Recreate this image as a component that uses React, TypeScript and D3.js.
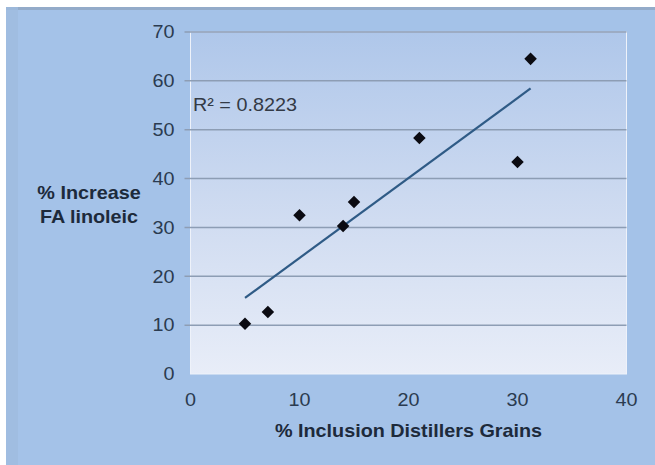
import React, { useEffect, useRef } from "react";
import * as d3 from "d3";

// data
const inclusion = [5, 7.1, 10, 14, 15, 21, 30, 31.2];
const linoleic = [10.3, 12.7, 32.5, 30.3, 35.2, 48.3, 43.4, 64.5];
const xTicks = [0, 10, 20, 30, 40];
const yTicks = [0, 10, 20, 30, 40, 50, 60, 70];
const xTitle = "% Inclusion Distillers Grains";
const yTitle = ["% Increase", "FA linoleic"];
const r2Label = "R² = 0.8223";

const W = 655;
const H = 465;
const FONT = "'Liberation Sans', Arial, sans-serif";
const SX = 1.1; // the original text is a bit stretched sideways

const App = () => {
  const ref = useRef<SVGSVGElement>(null);

  useEffect(() => {
    const svg = d3.select(ref.current);
    svg.selectAll("*").remove();

    const plot = { left: 190.5, right: 626.5, top: 32, bottom: 374 };

    const x = d3.scaleLinear().domain([0, 40]).range([plot.left, plot.right]);
    const y = d3.scaleLinear().domain([0, 70]).range([plot.bottom, plot.top]);

    const at = (px: number, py: number) => `translate(${px},${py}) scale(${SX},1)`;

    const defs = svg.append("defs");
    const grad = defs
      .append("linearGradient")
      .attr("id", "plotBg")
      .attr("x1", 0)
      .attr("y1", 0)
      .attr("x2", 0)
      .attr("y2", 1);
    grad.append("stop").attr("offset", "0%").attr("stop-color", "#afc7ea");
    grad.append("stop").attr("offset", "55%").attr("stop-color", "#d0dcf1");
    grad.append("stop").attr("offset", "100%").attr("stop-color", "#e8edf8");

    // page / slide background
    svg.append("rect").attr("width", W).attr("height", H).attr("fill", "#ffffff");
    svg
      .append("rect")
      .attr("x", 6)
      .attr("y", 7)
      .attr("width", W - 6)
      .attr("height", H - 7)
      .attr("fill", "#a4c2e8");
    svg
      .append("rect")
      .attr("x", 6)
      .attr("y", 7)
      .attr("width", W - 6)
      .attr("height", 3)
      .attr("fill", "#93abc9");
    svg
      .append("rect")
      .attr("x", 6)
      .attr("y", 7)
      .attr("width", 12)
      .attr("height", H - 7)
      .attr("fill", "#9fbcdf")
      .attr("opacity", 0.8);

    // plot area
    svg
      .append("rect")
      .attr("x", plot.left)
      .attr("y", plot.top)
      .attr("width", plot.right - plot.left)
      .attr("height", plot.bottom - plot.top)
      .attr("fill", "url(#plotBg)")
      .attr("stroke", "#eef2fa")
      .attr("stroke-width", 1);

    // gridlines
    svg
      .append("g")
      .selectAll("line")
      .data(yTicks.filter((d) => d > 0))
      .join("line")
      .attr("x1", plot.left - 6)
      .attr("x2", plot.right)
      .attr("y1", (d) => y(d))
      .attr("y2", (d) => y(d))
      .attr("stroke", "#8d9db4")
      .attr("stroke-width", 1.5);

    // y axis labels
    svg
      .append("g")
      .selectAll("text")
      .data(yTicks)
      .join("text")
      .attr("transform", (d) => at(plot.left - 16, y(d)))
      .attr("dy", "0.35em")
      .attr("text-anchor", "end")
      .attr("font-family", FONT)
      .attr("font-size", 18)
      .attr("fill", "#2b3b50")
      .text((d) => d);

    // x axis labels
    svg
      .append("g")
      .selectAll("text")
      .data(xTicks)
      .join("text")
      .attr("transform", (d) => at(x(d), 400))
      .attr("dy", "0.35em")
      .attr("text-anchor", "middle")
      .attr("font-family", FONT)
      .attr("font-size", 18)
      .attr("fill", "#2b3b50")
      .text((d) => d);

    // axis titles
    svg
      .append("text")
      .attr("transform", at((plot.left + plot.right) / 2, 431))
      .attr("dy", "0.35em")
      .attr("text-anchor", "middle")
      .attr("font-family", FONT)
      .attr("font-size", 18)
      .attr("font-weight", "bold")
      .attr("fill", "#1d2a3b")
      .text(xTitle);

    svg
      .append("g")
      .selectAll("text")
      .data(yTitle)
      .join("text")
      .attr("transform", (d, i) => at(89, 193 + i * 24))
      .attr("dy", "0.35em")
      .attr("text-anchor", "middle")
      .attr("font-family", FONT)
      .attr("font-size", 18)
      .attr("font-weight", "bold")
      .attr("fill", "#1d2a3b")
      .text((d) => d);

    // linear trendline (least squares)
    const pts = inclusion.map((v, i) => [v, linoleic[i]]);
    const mx = d3.mean(inclusion)!;
    const my = d3.mean(linoleic)!;
    const slope =
      d3.sum(pts, (p) => (p[0] - mx) * (p[1] - my)) /
      d3.sum(pts, (p) => (p[0] - mx) ** 2);
    const icpt = my - slope * mx;
    const [x0, x1] = d3.extent(inclusion) as [number, number];
    svg
      .append("path")
      .attr(
        "d",
        d3.line()([
          [x(x0), y(icpt + slope * x0)],
          [x(x1), y(icpt + slope * x1)],
        ])
      )
      .attr("stroke", "#2f5b86")
      .attr("stroke-width", 2.2)
      .attr("fill", "none");

    // points
    svg
      .append("g")
      .selectAll("path")
      .data(pts)
      .join("path")
      .attr("transform", (d) => `translate(${x(d[0])},${y(d[1])})`)
      .attr("d", d3.symbol(d3.symbolDiamond2, 100)())
      .attr("fill", "#0b0b12");

    svg
      .append("text")
      .attr("transform", at(193, 105))
      .attr("dy", "0.35em")
      .attr("font-family", FONT)
      .attr("font-size", 18)
      .attr("fill", "#333a45")
      .text(r2Label);
  }, []);

  return (
    <svg
      ref={ref}
      width={W}
      height={H}
      style={{ position: "absolute", left: 0, top: 0, display: "block" }}
    />
  );
};

export default App;
